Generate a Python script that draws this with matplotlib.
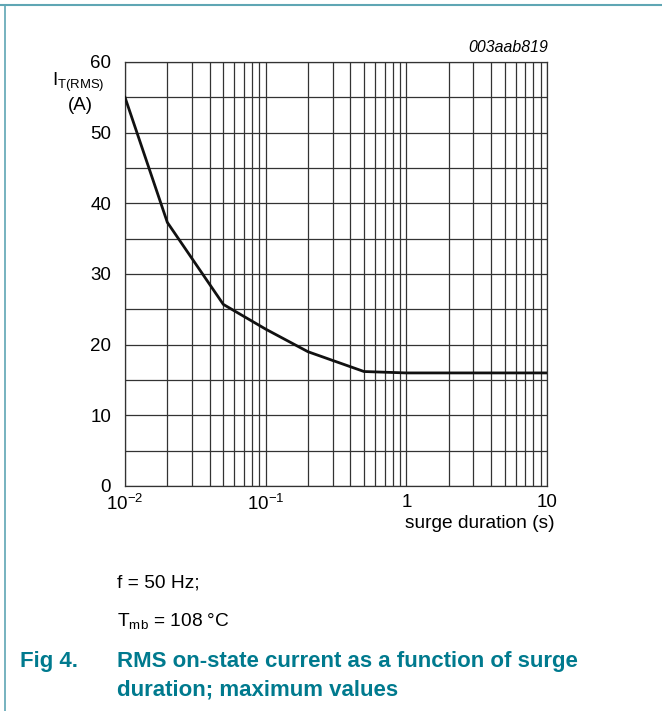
import matplotlib.pyplot as plt
from matplotlib.lines import Line2D

plt.rcParams['font.family'] = ['Liberation Sans', 'DejaVu Sans']

duration = [0.01, 0.02, 0.05, 0.1, 0.2, 0.5, 1.0, 10.0]
current = [55.0, 37.3, 25.7, 22.2, 19.0, 16.2, 16.0, 16.0]

x_ticks = [0.01, 0.1, 1, 10]
x_labels = ['$\\mathregular{10^{-2}}$', '$\\mathregular{10^{-1}}$', '1', '10']
y_ticks = [0, 10, 20, 30, 40, 50, 60]

teal = '#007a8e'
W, H = 662, 711

fig = plt.figure(figsize=(W / 100, H / 100), dpi=100)
ax = fig.add_axes([125 / W, 1 - 486 / H, 422 / W, 424 / H])

ax.plot(duration, current, color='#111111', lw=2.0, solid_joinstyle='miter', zorder=3)
ax.set_xscale('log')
ax.set_xlim(0.01, 10)
ax.set_ylim(0, 60)
ax.set_xticks(x_ticks, x_labels)
ax.set_yticks(y_ticks)
ax.set_yticks(range(5, 60, 10), minor=True)
ax.grid(True, which='both', color='#333333', lw=0.9)
ax.tick_params(which='both', length=0, labelsize=13.5, pad=10)
ax.tick_params(axis='x', pad=6)
for s in ax.spines.values():
    s.set_color('#333333')
    s.set_linewidth(0.9)

fig.text(78 / W, 1 - 82 / H, '$\\mathregular{I_{T(RMS)}}$', ha='center', va='center', fontsize=13.5)
fig.text(80 / W, 1 - 106 / H, '(A)', ha='center', va='center', fontsize=13.5)
fig.text(555 / W, 1 - 523 / H, 'surge duration (s)', ha='right', va='center', fontsize=13.8)
fig.text(548 / W, 1 - 47 / H, '003aab819', ha='right', va='center', fontsize=11.4, style='italic')

fig.text(117 / W, 1 - 583 / H, 'f = 50 Hz;', ha='left', va='center', fontsize=13.8)
fig.text(117 / W, 1 - 621 / H, '$\\mathregular{T_{mb}}$ = 108 \u00b0C', ha='left', va='center', fontsize=13.8)
fig.text(20 / W, 1 - 661 / H, 'Fig 4.', ha='left', va='center', fontsize=16,
         fontweight='bold', color=teal)
fig.text(117 / W, 1 - 661 / H, 'RMS on-state current as a function of surge', ha='left',
         va='center', fontsize=16, fontweight='bold', color=teal)
fig.text(117 / W, 1 - 690 / H, 'duration; maximum values', ha='left',
         va='center', fontsize=16, fontweight='bold', color=teal)

# page frame lines
frame = '#5fa6b4'
fig.add_artist(Line2D([0, 1], [1 - 5 / H, 1 - 5 / H], color=frame, lw=1.5, transform=fig.transFigure))
fig.add_artist(Line2D([4.5 / W, 4.5 / W], [0, 1 - 5 / H], color=frame, lw=1.2, transform=fig.transFigure))

fig.savefig('out.png', dpi=100)
